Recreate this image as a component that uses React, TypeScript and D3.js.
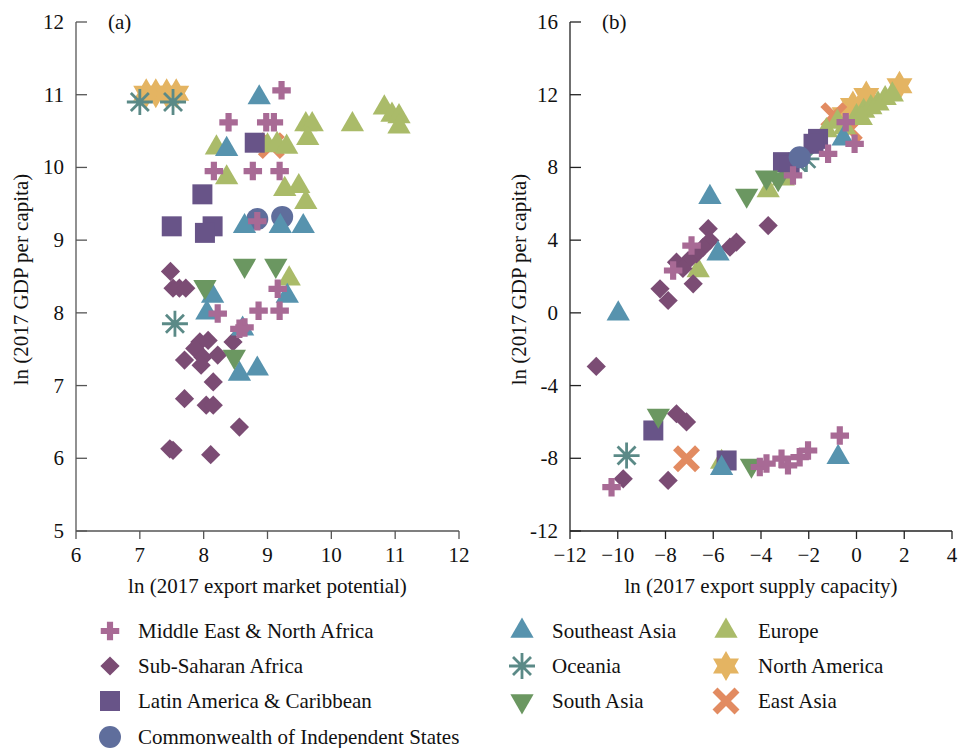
import React from "react";
import * as d3 from "d3";

// panel (a): ln export market potential vs ln GDP per capita
const menaA = [[9.22, 11.06], [8.39, 10.62], [8.98, 10.62], [9.1, 10.62], [8.16, 9.95], [8.77, 9.95], [9.19, 9.95], [8.84, 9.26], [9.16, 8.33], [8.22, 7.99], [8.86, 8.03], [9.19, 8.03], [8.64, 7.8], [8.56, 7.78]];
const ssaA = [[7.48, 8.57], [7.52, 8.34], [7.62, 8.34], [7.72, 8.34], [7.94, 7.6], [8.07, 7.62], [7.86, 7.51], [7.99, 7.39], [7.7, 7.35], [7.96, 7.28], [8.22, 7.42], [8.46, 7.6], [8.15, 7.05], [7.7, 6.82], [8.04, 6.73], [8.15, 6.73], [8.56, 6.43], [7.47, 6.13], [7.52, 6.11], [8.11, 6.05]];
const lacA = [[8.8, 10.34], [7.98, 9.63], [7.5, 9.19], [8.14, 9.19], [8.02, 9.1]];
const cisA = [[8.84, 9.29], [9.23, 9.32]];
const seaA = [[8.87, 10.96], [8.36, 10.25], [8.64, 9.19], [9.2, 9.19], [9.56, 9.19], [8.14, 8.23], [8.05, 8.0], [9.31, 8.23], [8.61, 7.78], [8.56, 7.16], [8.84, 7.23]];
const oceA = [[7.0, 10.9], [7.52, 10.9], [7.55, 7.85]];
const sasA = [[8.64, 8.65], [9.13, 8.65], [8.02, 8.36], [8.48, 7.4]];
const eurA = [[8.2, 10.27], [8.36, 9.86], [9.0, 10.3], [9.15, 10.32], [9.3, 10.28], [9.6, 10.59], [9.7, 10.59], [9.63, 10.4], [10.33, 10.59], [10.83, 10.82], [10.95, 10.72], [11.06, 10.7], [11.06, 10.56], [9.27, 9.7], [9.49, 9.74], [9.6, 9.52], [9.34, 8.47]];
const namA = [[7.1, 11.02], [7.25, 11.02], [7.42, 11.02], [7.57, 11.02]];
const easA = [[9.06, 10.3]];

// panel (b): ln export supply capacity vs ln GDP per capita
const menaB = [[-7.68, 2.33], [-6.91, 3.7], [-2.66, 7.56], [-1.19, 8.75], [-0.08, 9.3], [-0.45, 10.49], [-10.26, -9.59], [-4.05, -8.48], [-3.77, -8.29], [-3.14, -8.02], [-2.87, -8.39], [-2.38, -7.94], [-2.03, -7.57], [-0.7, -6.75]];
const ssaB = [[-6.21, 4.63], [-3.7, 4.8], [-5.03, 3.89], [-5.3, 3.61], [-6.14, 3.98], [-6.43, 3.6], [-6.7, 3.25], [-7.05, 2.88], [-7.54, 2.79], [-7.27, 2.44], [-6.84, 1.6], [-8.23, 1.32], [-7.89, 0.68], [-10.9, -2.95], [-9.77, -9.13], [-7.54, -5.55], [-7.12, -6.0], [-7.89, -9.22]];
const lacB = [[-3.08, 8.29], [-2.8, 8.1], [-1.61, 9.57], [-1.8, 9.3], [-8.51, -6.47], [-5.44, -8.12]];
const cisB = [[-2.38, 8.56]];
const seaB = [[-6.14, 6.36], [-5.8, 3.25], [-9.98, -0.05], [-0.56, 9.57], [-5.65, -8.55], [-0.77, -7.94]];
const oceB = [[-2.5, 8.29], [-2.1, 8.47], [-9.63, -7.85]];
const sasB = [[-4.6, 6.46], [-3.28, 7.37], [-3.77, 7.46], [-8.3, -5.64], [-4.4, -8.39]];
const eurB = [[-3.7, 6.73], [-3.07, 7.37], [-1.26, 10.03], [-6.63, 2.33], [-5.65, -8.21], [-0.5, 10.2], [0.0, 10.8], [0.3, 11.1], [0.6, 11.3], [0.9, 11.5], [1.2, 11.8], [1.5, 12.0], [0.2, 10.7], [-0.8, 10.5]];
const namB = [[-0.15, 11.4], [0.41, 11.96], [1.8, 12.5], [-0.5, 10.9]];
const easB = [[-0.95, 10.85], [-0.3, 10.1], [-7.12, -8.03]];

const ticksAX = [6, 7, 8, 9, 10, 11, 12];
const ticksAY = [5, 6, 7, 8, 9, 10, 11, 12];
const ticksBX = [-12, -10, -8, -6, -4, -2, 0, 2, 4];
const ticksBY = [-12, -8, -4, 0, 4, 8, 12, 16];

const regions = [
  { name: "Middle East & North Africa", color: "#a86a95", shape: "plus", a: menaA, b: menaB },
  { name: "Sub-Saharan Africa", color: "#7b4c74", shape: "diamond", a: ssaA, b: ssaB },
  { name: "Latin America & Caribbean", color: "#685488", shape: "square", a: lacA, b: lacB },
  { name: "Commonwealth of Independent States", color: "#5f6e9c", shape: "circle", a: cisA, b: cisB },
  { name: "Southeast Asia", color: "#5793ae", shape: "triangle", a: seaA, b: seaB },
  { name: "Oceania", color: "#5b8a87", shape: "asterisk", a: oceA, b: oceB },
  { name: "South Asia", color: "#6b9761", shape: "down", a: sasA, b: sasB },
  { name: "Europe", color: "#aabb69", shape: "triangle", a: eurA, b: eurB },
  { name: "North America", color: "#e4b462", shape: "star", a: namA, b: namB },
  { name: "East Asia", color: "#e28b61", shape: "cross", a: easA, b: easB },
];

// bottom to top
const drawOrder = ["North America", "East Asia", "Europe", "Oceania", "Latin America & Caribbean",
  "Commonwealth of Independent States", "Sub-Saharan Africa", "Southeast Asia", "South Asia",
  "Middle East & North Africa"];

const FONT = "'Liberation Serif', 'Times New Roman', serif";

const starPath = (() => {
  const R = 15, r = R / Math.sqrt(3);
  const pts = d3.range(12).map((i) => {
    const ang = -Math.PI / 2 + (i * Math.PI) / 6;
    const rad = i % 2 === 0 ? R : r;
    return [rad * Math.cos(ang), rad * Math.sin(ang)];
  });
  return "M" + pts.map((p) => p.join(",")).join("L") + "Z";
})();

function Marker({ shape, color, x, y }) {
  const t = `translate(${x},${y})`;
  if (shape === "plus")
    return <path transform={t} d={d3.symbol(d3.symbolCross, 190)()} fill={color} />;
  if (shape === "diamond")
    return <path transform={t + " rotate(45)"} d={d3.symbol(d3.symbolSquare, 185)()} fill={color} />;
  if (shape === "square")
    return <path transform={t} d={d3.symbol(d3.symbolSquare, 400)()} fill={color} />;
  if (shape === "circle")
    return <path transform={t} d={d3.symbol(d3.symbolCircle, 380)()} fill={color} />;
  if (shape === "triangle")
    return <path transform={t} d={d3.symbol(d3.symbolTriangle, 235)()} fill={color} />;
  if (shape === "down")
    return <path transform={t + " rotate(180)"} d={d3.symbol(d3.symbolTriangle, 235)()} fill={color} />;
  if (shape === "star") return <path transform={t} d={starPath} fill={color} />;
  if (shape === "cross")
    return <path transform={t} d="M-11,-11L11,11M-11,11L11,-11" stroke={color} strokeWidth={7} fill="none" />;
  // asterisk
  return (
    <g transform={t} stroke={color} strokeWidth={2.8} fill="none">
      <path d="M-13,0L13,0M0,-13L0,13M-9,-9L9,9M-9,9L9,-9" />
      <circle r={3.5} fill={color} stroke="none" />
    </g>
  );
}

function Panel({ xs, ys, xt, yt, key2, label, xTitle, axisColor, titleX }) {
  const [x0, x1] = xs.range();
  const [y0, y1] = ys.range();
  const ordered = drawOrder.map((n) => regions.find((r) => r.name === n));
  return (
    <g fontFamily={FONT} fontSize={21} fill="#111">
      {ordered.map((r) =>
        r[key2].map((d, i) => (
          <Marker key={r.name + i} shape={r.shape} color={r.color} x={xs(d[0])} y={ys(d[1])} />
        ))
      )}
      <line x1={x0} x2={x0} y1={y0} y2={y1} stroke={axisColor} strokeWidth={1.3} />
      <line x1={x0} x2={x1} y1={y0} y2={y0} stroke={axisColor} strokeWidth={1.3} />
      {yt.map((v) => (
        <g key={"y" + v}>
          <line x1={x0} x2={x0 + 11} y1={ys(v)} y2={ys(v)} stroke={axisColor} strokeWidth={1.3} />
          <text x={x0 - 12} y={ys(v) + 7} textAnchor="end">{v}</text>
        </g>
      ))}
      {xt.map((v) => (
        <g key={"x" + v}>
          <line x1={xs(v)} x2={xs(v)} y1={y0} y2={y0 + 8} stroke={axisColor} strokeWidth={1.3} />
          <text x={xs(v)} y={562} textAnchor="middle">{v < 0 ? "\u2212" + Math.abs(v) : v}</text>
        </g>
      ))}
      <text x={x0 + 32} y={29}>{label}</text>
      <text x={(x0 + x1) / 2} y={593} textAnchor="middle">{xTitle}</text>
      <text transform={`translate(${titleX},${(y0 + y1) / 2 + 3}) rotate(-90)`} textAnchor="middle">
        ln (2017 GDP per capita)
      </text>
    </g>
  );
}

const legendCols = [
  ["Middle East & North Africa", "Sub-Saharan Africa", "Latin America & Caribbean", "Commonwealth of Independent States"],
  ["Southeast Asia", "Oceania", "South Asia"],
  ["Europe", "North America", "East Asia"],
];

export default function App() {
  const xA = d3.scaleLinear().domain([6, 12]).range([76, 459]);
  const yA = d3.scaleLinear().domain([5, 12]).range([531, 22]);
  const xB = d3.scaleLinear().domain([-12, 4]).range([570, 952]);
  const yB = d3.scaleLinear().domain([-12, 16]).range([531, 22]);
  const colX = [110, 522, 726];
  const textX = [138, 552, 758];
  const rowY = [631, 666, 701, 737];
  return (
    <svg width={958} height={748} style={{ position: "absolute", left: 0, top: 0, background: "#fff" }}>
      <Panel xs={xA} ys={yA} xt={ticksAX} yt={ticksAY} key2="a" label="(a)"
        xTitle="ln (2017 export market potential)" axisColor="#555" titleX={28} />
      <Panel xs={xB} ys={yB} xt={ticksBX} yt={ticksBY} key2="b" label="(b)"
        xTitle="ln (2017 export supply capacity)" axisColor="#222" titleX={526} />
      <g fontFamily={FONT} fontSize={21} fill="#111">
        {legendCols.map((col, ci) =>
          col.map((name, ri) => {
            const r = regions.find((g) => g.name === name);
            return (
              <g key={name}>
                <Marker shape={r.shape} color={r.color} x={colX[ci]} y={rowY[ri]} />
                <text x={textX[ci]} y={rowY[ri] + 7}>{name}</text>
              </g>
            );
          })
        )}
      </g>
    </svg>
  );
}
